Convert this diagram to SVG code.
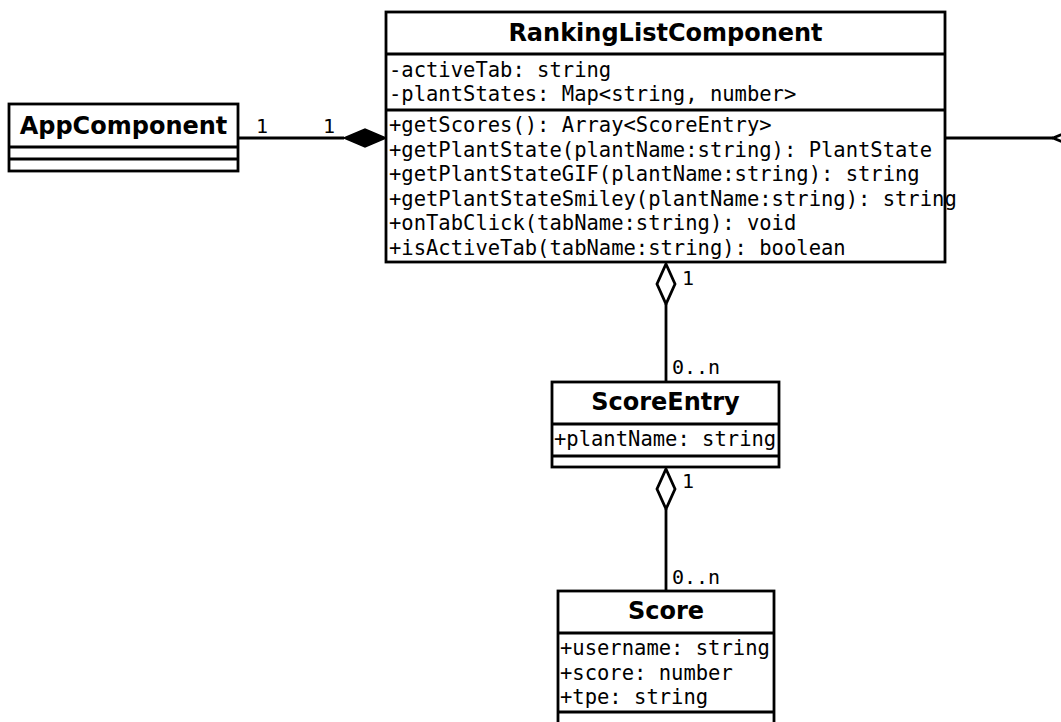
<svg xmlns="http://www.w3.org/2000/svg" width="1061" height="722" viewBox="0 0 1061 722">
  <style>
    .box { fill: #ffffff; stroke: #000000; stroke-width: 2.8; }
    .div { stroke: #000000; stroke-width: 2.8; }
    .name { font-family: "DejaVu Sans", sans-serif; font-weight: bold; font-size: 24px; fill: #000000; text-anchor: middle; }
    .mem { font-family: "DejaVu Sans Mono", monospace; font-size: 20.5px; fill: #000000; }
    .lbl { font-family: "DejaVu Sans Mono", monospace; font-size: 20px; fill: #000000; }
    .edge { fill: none; stroke: #000000; stroke-width: 2.8; }
    .hollow { fill: #ffffff; stroke: #000000; stroke-width: 2.8; stroke-linejoin: miter; }
    .solid { fill: #000000; stroke: #000000; stroke-width: 1.5; }
  </style>
  <rect width="1061" height="722" fill="#ffffff"/>

  <!-- connectors -->
  <g id="connectors">
    <!-- AppComponent composed into RankingListComponent -->
    <line class="edge" x1="238" y1="138" x2="344" y2="138"/>
    <polygon class="solid" points="344,138 365,129 386,138 365,147"/>
    <text class="lbl" x="256" y="133">1</text>
    <text class="lbl" x="323" y="133">1</text>

    <!-- RankingListComponent aggregated to the right -->
    <line class="edge" x1="945" y1="138" x2="1053" y2="138"/>
    <polygon class="hollow" points="1053,138 1075,129 1097,138 1075,147"/>

    <!-- RankingListComponent to ScoreEntry -->
    <line class="edge" x1="666" y1="304" x2="666" y2="382"/>
    <polygon class="hollow" points="666,264 675,284 666,304 657,284"/>
    <text class="lbl" x="682" y="285">1</text>
    <text class="lbl" x="672" y="374">0..n</text>

    <!-- ScoreEntry to Score -->
    <line class="edge" x1="666" y1="509" x2="666" y2="591"/>
    <polygon class="hollow" points="666,469 675,489 666,509 657,489"/>
    <text class="lbl" x="682" y="488">1</text>
    <text class="lbl" x="672" y="584">0..n</text>
  </g>

  <!-- AppComponent -->
  <g id="AppComponent">
    <rect class="box" x="9" y="104" width="229" height="67"/>
    <line class="div" x1="9" y1="147" x2="238" y2="147"/>
    <line class="div" x1="9" y1="159" x2="238" y2="159"/>
    <text class="name" x="123.5" y="134">AppComponent</text>
  </g>

  <!-- RankingListComponent -->
  <g id="RankingListComponent">
    <rect class="box" x="386" y="12" width="559" height="250"/>
    <line class="div" x1="386" y1="54" x2="945" y2="54"/>
    <line class="div" x1="386" y1="110" x2="945" y2="110"/>
    <text class="name" x="665.5" y="41">RankingListComponent</text>
    <text class="mem" x="389" y="77">-activeTab: string</text>
    <text class="mem" x="389" y="101">-plantStates: Map&lt;string, number&gt;</text>
    <text class="mem" x="389" y="132">+getScores(): Array&lt;ScoreEntry&gt;</text>
    <text class="mem" x="389" y="156.5">+getPlantState(plantName:string): PlantState</text>
    <text class="mem" x="389" y="181">+getPlantStateGIF(plantName:string): string</text>
    <text class="mem" x="389" y="205.5">+getPlantStateSmiley(plantName:string): string</text>
    <text class="mem" x="389" y="230">+onTabClick(tabName:string): void</text>
    <text class="mem" x="389" y="254.5">+isActiveTab(tabName:string): boolean</text>
  </g>

  <!-- ScoreEntry -->
  <g id="ScoreEntry">
    <rect class="box" x="552" y="382" width="227" height="85"/>
    <line class="div" x1="552" y1="424" x2="779" y2="424"/>
    <line class="div" x1="552" y1="456" x2="779" y2="456"/>
    <text class="name" x="665.5" y="410">ScoreEntry</text>
    <text class="mem" x="554" y="446">+plantName: string</text>
  </g>

  <!-- Score -->
  <g id="Score">
    <rect class="box" x="558" y="591" width="216" height="150"/>
    <line class="div" x1="558" y1="633" x2="774" y2="633"/>
    <line class="div" x1="558" y1="712" x2="774" y2="712"/>
    <text class="name" x="666" y="619">Score</text>
    <text class="mem" x="560" y="655">+username: string</text>
    <text class="mem" x="560" y="679.5">+score: number</text>
    <text class="mem" x="560" y="704">+tpe: string</text>
  </g>
</svg>
